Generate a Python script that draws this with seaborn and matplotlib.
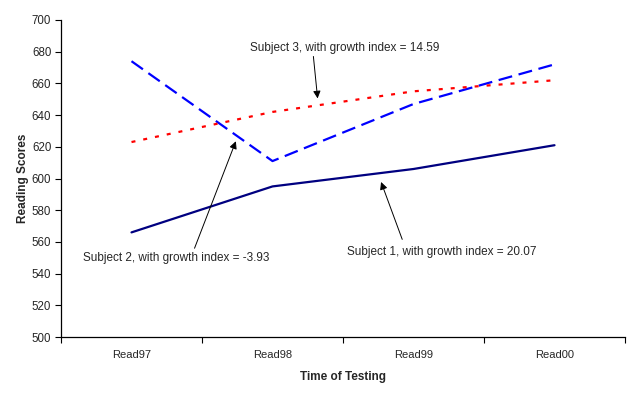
import matplotlib
matplotlib.use("Agg")
import matplotlib.pyplot as plt
import seaborn as sns
import numpy as np
import pandas as pd

categories = ["Read97", "Read98", "Read99", "Read00"]
subject1 = [566, 595, 606, 621]
subject2 = [674, 611, 647, 672]
subject3 = [623, 642, 655, 662]

sns.set_style("white")
plt.rcParams['font.family'] = ['Liberation Sans', 'DejaVu Sans']

fig = plt.figure(figsize=(6.34, 3.97), dpi=100)
ax = fig.add_axes([61/634, 60/397, (625-61)/634, (337-20)/397])

xpos = np.arange(len(categories))
sns.lineplot(x=xpos, y=subject1, ax=ax, color="#000080", lw=1.6, linestyle="-")
sns.lineplot(x=xpos, y=subject2, ax=ax, color="#0000FF", lw=1.6)
sns.lineplot(x=xpos, y=subject3, ax=ax, color="#FF0000", lw=1.6)
lines = ax.get_lines()
lines[1].set_dashes([6.3, 3.0])
lines[2].set_dashes([1.8, 3.6])

ax.set_xlim(-0.5, 3.5)
ax.set_ylim(500, 700)
ax.set_yticks(np.arange(500, 701, 20))
ax.set_xticks(np.arange(-0.5, 3.6, 1.0))
ax.set_xticklabels([])
ax.set_xticks(xpos, minor=True)
ax.set_xticklabels(categories, minor=True)
ax.tick_params(axis='x', which='minor', bottom=True, length=0, pad=9, labelsize=8)
ax.tick_params(axis='x', which='major', bottom=True, length=4, width=0.8, direction='out', color='black')
ax.tick_params(axis='y', left=True, length=4, width=0.8, direction='out', labelsize=8.3, pad=3, color='black')
for s in ["top", "right"]:
    ax.spines[s].set_visible(False)
for s in ["left", "bottom"]:
    ax.spines[s].set_color("black")
    ax.spines[s].set_linewidth(0.9)

ax.set_xlabel("Time of Testing", fontsize=8.5, fontweight='bold', labelpad=8)
ax.set_ylabel("Reading Scores", fontsize=8.5, fontweight='bold', labelpad=2)

arrow = dict(arrowstyle='-|>', color='black', lw=0.7, mutation_scale=11, shrinkA=0, shrinkB=0)
ax.text(1.51, 682.3, "Subject 3, with growth index = 14.59", ha='center', va='center', fontsize=8.5)
ax.annotate("", xy=(1.32, 650.5), xytext=(1.29, 677), arrowprops=arrow)
ax.text(0.32, 549.6, "Subject 2, with growth index = -3.93", ha='center', va='center', fontsize=8.5)
ax.annotate("", xy=(0.74, 623.5), xytext=(0.447, 556), arrowprops=arrow)
ax.text(2.2, 553.4, "Subject 1, with growth index = 20.07", ha='center', va='center', fontsize=8.5)
ax.annotate("", xy=(1.77, 597.8), xytext=(1.92, 561.6), arrowprops=arrow)

fig.savefig("out.png", dpi=100)
